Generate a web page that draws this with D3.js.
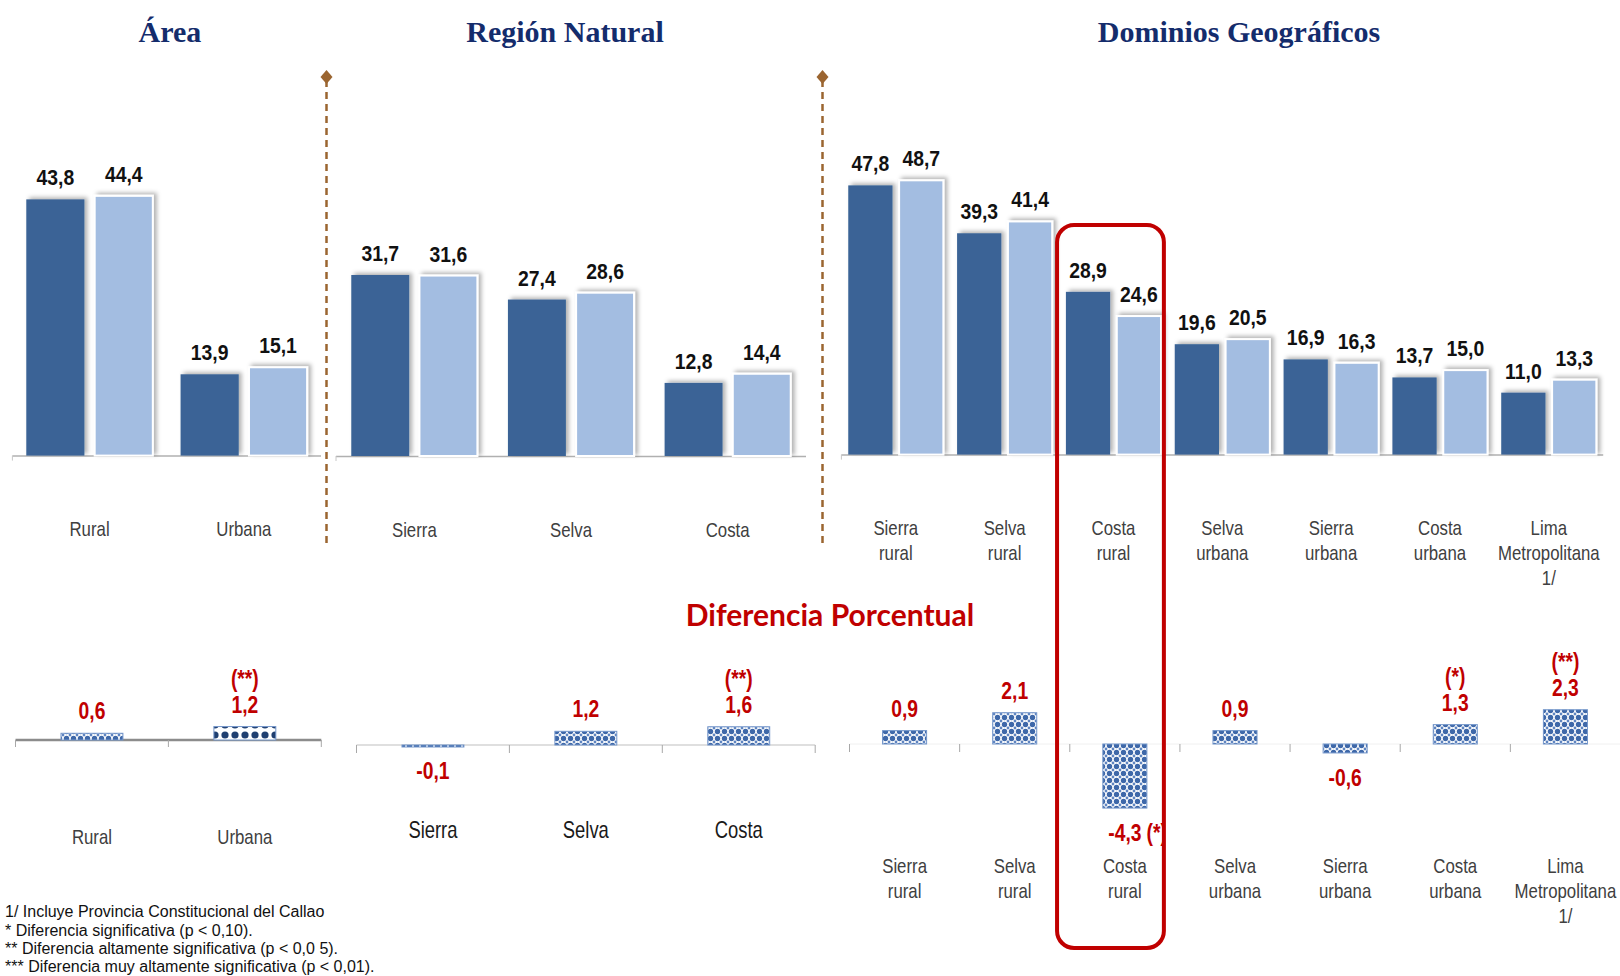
<!DOCTYPE html>
<html lang="es">
<head>
<meta charset="UTF-8">
<title>Área, Región Natural y Dominios Geográficos</title>
<script src="https://d3js.org/d3.v7.min.js"></script>
<style>
    body { margin: 0; background: #fff; }
    .title { font-family: "Liberation Serif", serif; font-weight: bold; font-size: 30px; fill: #142c6c; }
    .val { font-family: "Liberation Sans", sans-serif; font-weight: bold; font-size: 22px; fill: #111; }
    .cat { font-family: "Liberation Sans", sans-serif; font-size: 20px; fill: #404040; }
    .cat2 { font-family: "Liberation Sans", sans-serif; font-size: 23px; fill: #1a1a1a; }
    .dval { font-family: "Liberation Sans", sans-serif; font-weight: bold; font-size: 23px; fill: #c00000; }
    .note { font-family: "Liberation Sans", sans-serif; font-size: 16px; fill: #111; }
    .sub { font-family: "Lato", sans-serif; font-weight: bold; font-size: 30px; fill: #c00000; }
</style>
</head>
<body>
<svg width="1620" height="976"></svg>
<script>
// ---- datos ----
var areaCats = ["Rural", "Urbana"];
var areaPrev = [43.8, 13.9];
var areaCurr = [44.4, 15.1];
var areaDiff = [0.6, 1.2];
var areaSig = ["", "(**)"];

var regionCats = ["Sierra", "Selva", "Costa"];
var regionPrev = [31.7, 27.4, 12.8];
var regionCurr = [31.6, 28.6, 14.4];
var regionDiff = [-0.1, 1.2, 1.6];
var regionSig = ["", "", "(**)"];

var domCats = ["Sierra rural", "Selva rural", "Costa rural", "Selva urbana", "Sierra urbana", "Costa urbana", "Lima Metropolitana 1/"];
var domPrev = [47.8, 39.3, 28.9, 19.6, 16.9, 13.7, 11.0];
var domCurr = [48.7, 41.4, 24.6, 20.5, 16.3, 15.0, 13.3];
var domDiff = [0.9, 2.1, -4.3, 0.9, -0.6, 1.3, 2.3];
var domSig = ["", "", "(*)", "", "", "(*)", "(**)"];

var titles = ["Área", "Región Natural", "Dominios Geográficos"];
var highlightCat = "Costa rural";
var notes = [
    "1/ Incluye Provincia Constitucional del Callao",
    "* Diferencia significativa (p <  0,10).",
    "** Diferencia altamente significativa (p < 0,0 5).",
    "*** Diferencia muy altamente significativa (p < 0,01)."
];

var fmt = function(v) { return d3.format(".1f")(v).replace(".", ",").replace("\u2212", "-"); };
// texto comprimido en horizontal (la fuente original es estrecha)
function at(x, y, k) { return "translate(" + x + "," + y + ") scale(" + k + ",1)"; }

var svg = d3.select("svg");
var defs = svg.append("defs");

// sombra de las barras
var sh = defs.append("filter").attr("id", "shadow").attr("x", "-20%").attr("y", "-20%").attr("width", "140%").attr("height", "140%");
sh.append("feDropShadow").attr("dx", 3).attr("dy", -2).attr("stdDeviation", 2)
    .attr("flood-color", "#000").attr("flood-opacity", 0.3);

// tramas de las barras de diferencia
var p1 = defs.append("pattern").attr("id", "dots").attr("width", 7).attr("height", 7)
    .attr("patternUnits", "userSpaceOnUse");
p1.append("rect").attr("width", 7).attr("height", 7).attr("fill", "#ffffff");
p1.append("circle").attr("cx", 3.5).attr("cy", 3.5).attr("r", 2.7).attr("fill", "#3e68a9");
[[0, 0], [7, 0], [0, 7], [7, 7]].forEach(function(c) {
    p1.append("circle").attr("cx", c[0]).attr("cy", c[1]).attr("r", 1.4).attr("fill", "#5e84c0");
});

var p2 = defs.append("pattern").attr("id", "dotsBig").attr("width", 10).attr("height", 10)
    .attr("patternUnits", "userSpaceOnUse");
p2.append("rect").attr("width", 10).attr("height", 10).attr("fill", "#ffffff");
p2.append("circle").attr("cx", 5).attr("cy", 5).attr("r", 3.6).attr("fill", "#1f3f70");
var diffPattern = { "Urbana": "dotsBig" };

// ---- graficos superiores ----
var topPanels = [
    { cats: areaCats, prev: areaPrev, curr: areaCurr, range: [12.4, 321], base: 455.6, top: 163.1, pad: 0.18, inner: 0.15, titleX: 170 },
    { cats: regionCats, prev: regionPrev, curr: regionCurr, range: [336, 806], base: 456, top: 170.5, pad: 0.195, inner: 0.15, titleX: 565 },
    { cats: domCats, prev: domPrev, curr: domCurr, range: [841.4, 1603.2], base: 454.6, top: 173, pad: 0.126, inner: 0.13, titleX: 1239 }
];

var hlBand = null;

topPanels.forEach(function(p, pi) {
    var x0 = d3.scaleBand().domain(p.cats).range(p.range).paddingInner(p.pad).paddingOuter(p.pad / 2);
    var x1 = d3.scaleBand().domain(["prev", "curr"]).range([0, x0.bandwidth()]).paddingInner(p.inner);
    var y = d3.scaleLinear().domain([0, 50]).range([p.base, p.top]);
    var step = x0.step();

    if (p.cats.indexOf(highlightCat) >= 0) hlBand = { x: x0(highlightCat) - step * p.pad / 2, w: step };

    svg.append("text").attr("class", "title").attr("x", p.titleX).attr("y", 42.4)
        .attr("text-anchor", "middle").text(titles[pi]);

    var g = svg.append("g");
    // eje
    g.append("line").attr("x1", p.range[0]).attr("x2", p.range[1])
        .attr("y1", p.base + 0.5).attr("y2", p.base + 0.5)
        .attr("stroke", "#b0b0b0").attr("stroke-width", 1.5);
    g.append("line").attr("x1", p.range[0]).attr("x2", p.range[0])
        .attr("y1", p.base).attr("y2", p.base + 5).attr("stroke", "#c8c8c8");

    var rows = p.cats.map(function(c, i) { return { cat: c, prev: p.prev[i], curr: p.curr[i] }; });
    var grp = g.selectAll("g.grp").data(rows).enter().append("g")
        .attr("transform", function(d) { return "translate(" + x0(d.cat) + ",0)"; });

    grp.append("rect").attr("x", x1("prev")).attr("width", x1.bandwidth())
        .attr("y", function(d) { return y(d.prev); })
        .attr("height", function(d) { return p.base - y(d.prev); })
        .attr("fill", "#3a6496").attr("filter", "url(#shadow)");
    grp.append("rect").attr("x", x1("curr")).attr("width", x1.bandwidth())
        .attr("y", function(d) { return y(d.curr); })
        .attr("height", function(d) { return p.base - y(d.curr); })
        .attr("fill", "#a3bde1").attr("stroke", "#ffffff").attr("stroke-width", 2)
        .attr("filter", "url(#shadow)");

    ["prev", "curr"].forEach(function(key) {
        grp.append("text").attr("class", "val").attr("text-anchor", "middle")
            .attr("transform", function(d) { return at(x1(key) + x1.bandwidth() / 2, y(d[key]) - 14, 0.88); })
            .text(function(d) { return fmt(d[key]); });
    });

    var multi = pi === 2;
    grp.append("text").attr("class", "cat").attr("text-anchor", "middle")
        .attr("transform", at(x0.bandwidth() / 2, multi ? 535 : (pi === 0 ? 536 : 537), 0.84))
        .each(function(d) {
            var t = d3.select(this);
            var words = multi ? d.cat.split(" ") : [d.cat];
            words.forEach(function(w, k) {
                t.append("tspan").attr("x", 0).attr("dy", k === 0 ? 0 : 24.8).text(w);
            });
        });
});

// separadores
[326.5, 822.5].forEach(function(xv) {
    svg.append("line").attr("x1", xv).attr("x2", xv).attr("y1", 80).attr("y2", 545)
        .attr("stroke", "#9b6530").attr("stroke-width", 2.5).attr("stroke-dasharray", "7,5");
    svg.append("path").attr("d", "M" + xv + ",70 l6,7 l-6,7 l-6,-7 z").attr("fill", "#9b6530");
});

// ---- diferencia porcentual ----
svg.append("text").attr("class", "sub").attr("x", 830).attr("y", 626)
    .attr("text-anchor", "middle").text("Diferencia Porcentual");

var lowPanels = [
    { cats: areaCats, vals: areaDiff, sig: areaSig, range: [15.5, 321.3], base: 740, unit: 11.2, frac: 0.405,
      axis: "#8c8c8c", axisW: 2.5, tick: 7, catY: 844, catCls: "cat", catK: 0.84, multi: false },
    { cats: regionCats, vals: regionDiff, sig: regionSig, range: [356.5, 815.2], base: 745, unit: 11.4, frac: 0.405,
      axis: "#c0c0c0", axisW: 1.2, tick: 8, catY: 838, catCls: "cat2", catK: 0.8, multi: false },
    { cats: domCats, vals: domDiff, sig: domSig, range: [849.5, 1620.5], base: 744, unit: 14.9, frac: 0.4,
      axis: "#f0f0f0", axisW: 1, tick: 8, catY: 873, catCls: "cat", catK: 0.84, multi: true }
];

var clipId = 0;
var dk = 0.84;
lowPanels.forEach(function(p) {
    var x = d3.scaleBand().domain(p.cats).range(p.range).paddingInner(1 - p.frac).paddingOuter((1 - p.frac) / 2);
    var y = d3.scaleLinear().domain([0, 1]).range([p.base, p.base - p.unit]);
    var step = x.step();
    var bw = x.bandwidth();
    var g = svg.append("g");

    g.append("line").attr("x1", p.range[0]).attr("x2", p.range[1])
        .attr("y1", p.base).attr("y2", p.base)
        .attr("stroke", p.axis).attr("stroke-width", p.axisW);
    var ticks = d3.range(p.cats.length + 1).map(function(i) { return p.range[0] + i * step; });
    g.selectAll("line.tk").data(ticks).enter().append("line")
        .attr("x1", function(d) { return d; }).attr("x2", function(d) { return d; })
        .attr("y1", p.base).attr("y2", p.base + p.tick)
        .attr("stroke", "#a8a8a8").attr("stroke-width", 1);

    var rows = p.cats.map(function(c, i) { return { cat: c, v: p.vals[i], sig: p.sig[i] }; });

    g.selectAll("rect.bar").data(rows).enter().append("rect")
        .attr("x", function(d) { return x(d.cat); })
        .attr("width", bw)
        .attr("y", function(d) { return Math.min(y(d.v), y(0)); })
        .attr("height", function(d) { return Math.max(Math.abs(y(d.v) - y(0)), 2); })
        .attr("fill", function(d) { return "url(#" + (diffPattern[d.cat] || "dots") + ")"; })
        .attr("stroke", "#7597cb")
        .attr("stroke-width", 1);

    rows.forEach(function(d) {
        var cx = x(d.cat) + bw / 2;
        if (d.v >= 0) {
            var ty = y(d.v) - 14;
            g.append("text").attr("class", "dval").attr("text-anchor", "middle")
                .attr("transform", at(cx, ty, dk)).text(fmt(d.v));
            if (d.sig) g.append("text").attr("class", "dval").attr("text-anchor", "middle")
                .attr("transform", at(cx, ty - 26, dk)).text(d.sig);
        } else {
            var by = y(d.v) + 33;
            var t = g.append("text").attr("class", "dval").attr("text-anchor", "middle")
                .attr("transform", at(cx, by, dk)).text(fmt(d.v));
            if (d.sig) {
                var len = t.node().getComputedTextLength() * dk;
                var cid = "clip" + (clipId++);
                var right = d.cat === highlightCat && hlBand ? hlBand.x + hlBand.w - 4 : 1620;
                defs.append("clipPath").attr("id", cid).append("rect")
                    .attr("x", 0).attr("y", 0).attr("width", right).attr("height", 976);
                g.append("g").attr("clip-path", "url(#" + cid + ")")
                    .append("text").attr("class", "dval")
                    .attr("transform", at(cx + len / 2 + 5, by, dk)).text(d.sig);
            }
        }
    });

    g.selectAll("text.cl").data(rows).enter().append("text")
        .attr("class", p.catCls).attr("text-anchor", "middle")
        .attr("transform", function(d) { return at(x(d.cat) + bw / 2, p.catY, p.catK); })
        .each(function(d) {
            var t = d3.select(this);
            var words = p.multi ? d.cat.split(" ") : [d.cat];
            words.forEach(function(w, k) {
                t.append("tspan").attr("x", 0).attr("dy", k === 0 ? 0 : 24.8).text(w);
            });
        });
});

// recuadro de resalte
if (hlBand) {
    svg.append("rect").attr("x", hlBand.x - 2).attr("y", 225).attr("width", hlBand.w - 2).attr("height", 723)
        .attr("rx", 17).attr("fill", "none").attr("stroke", "#c00000").attr("stroke-width", 4);
}

// notas
svg.selectAll("text.nt").data(notes).enter().append("text")
    .attr("class", "note").attr("x", 5)
    .attr("y", function(d, i) { return [917, 936, 954, 972][i]; })
    .text(function(d) { return d; });
</script>
</body>
</html>
